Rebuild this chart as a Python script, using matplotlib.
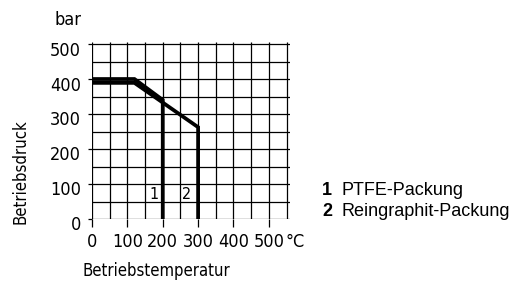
import matplotlib.pyplot as plt
from matplotlib.transforms import ScaledTranslation

# Druck-Temperatur-Grenzen der Packungen
temp_ptfe = [0, 120, 200, 200]
druck_ptfe = [401, 401, 341, 0]
temp_graphit = [0, 120, 300, 300]
druck_graphit = [390, 390, 263, 0]

x_ticks = [0, 100, 200, 300, 400, 500]
y_ticks = [0, 100, 200, 300, 400, 500]
x_grid = [0, 50, 100, 150, 200, 250, 300, 350, 400, 450, 500, 550]
y_grid = [0, 50, 100, 150, 200, 250, 300, 350, 400, 450, 500]

legende = [("1", "PTFE-Packung"), ("2", "Reingraphit-Packung")]

cond = dict(family="DejaVu Sans", stretch="condensed", fontweight="light")
xlen, xpad = 5.8, 4

fig = plt.figure(figsize=(5.17, 2.84), dpi=100)
ax = fig.add_axes([0.178, 0.229, 0.383, 0.623])
ax.set_xlim(0, 560)
ax.set_ylim(0, 507)

# Raster von Hand, damit die Linien wie im Original ueberstehen
ax.vlines(x_grid, 0, 507, color="black", lw=0.9)
ax.hlines(y_grid, 0, 560, color="black", lw=0.9)

ax.plot(temp_ptfe, druck_ptfe, color="black", lw=2.7, solid_joinstyle="miter")
ax.plot(temp_graphit, druck_graphit, color="black", lw=2.7, solid_joinstyle="miter")

ax.text(174, 71, "1", fontsize=11.5, ha="center", va="center", **cond)
ax.text(268, 71, "2", fontsize=11.5, ha="center", va="center", **cond)

for s in ax.spines.values():
    s.set_visible(False)
ax.set_xticks(x_ticks)
ax.set_yticks(y_ticks)
ax.set_xticklabels([str(t) for t in x_ticks], fontsize=13, **cond)
ax.set_yticklabels([str(t) for t in y_ticks], fontsize=13, **cond)
ax.tick_params(axis="x", length=xlen, width=0.9, pad=xpad)
ax.tick_params(axis="y", length=3, width=0.9, pad=5)
shift = ScaledTranslation(0, -3 / 72, fig.dpi_scale_trans)
for lbl in ax.get_yticklabels():
    lbl.set_transform(lbl.get_transform() + shift)

grad = ax.get_xaxis_transform() + ScaledTranslation(0, -(xlen + xpad) / 72, fig.dpi_scale_trans)
ax.text(547, 0, "°C", fontsize=13, ha="left", va="top", transform=grad, **cond)

fig.text(0.131, 0.93, "bar", fontsize=13, ha="center", va="center", **cond)
fig.text(0.039, 0.394, "Betriebsdruck", fontsize=12, rotation=90,
         ha="center", va="center", **cond)
fig.text(0.303, 0.045, "Betriebstemperatur", fontsize=12,
         ha="center", va="center", **cond)

for i, (nr, name) in enumerate(legende):
    y = 0.33 - i * 0.076
    fig.text(0.623, y, nr, fontsize=13, fontweight="bold", family="Liberation Sans",
             ha="left", va="center")
    fig.text(0.661, y, name, fontsize=13, family="Liberation Sans",
             ha="left", va="center")

fig.savefig("out.png", dpi=100)
